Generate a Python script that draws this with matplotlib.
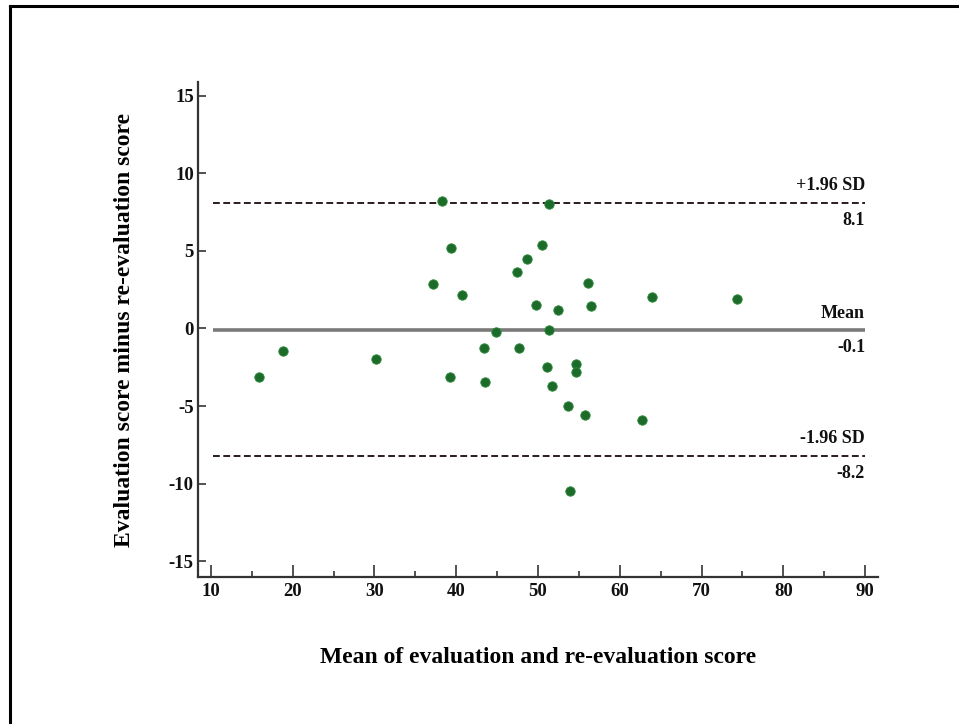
import matplotlib
matplotlib.use("Agg")
import matplotlib.pyplot as plt
from matplotlib.lines import Line2D

# Data
mean_scores = [15.9, 18.75, 30.2, 37.1, 38.2, 39.3, 39.2, 40.7, 43.4, 43.5, 44.9,
               47.4, 47.7, 48.6, 49.7, 50.5, 51.1, 51.4, 51.4, 51.7, 52.4, 53.7,
               53.9, 54.6, 54.6, 55.8, 56.1, 56.5, 62.7, 63.9, 74.3]
differences = [-3.16, -1.45, -2.0, 2.89, 8.23, 5.22, -3.13, 2.18, -1.24, -3.48, -0.24,
               3.66, -1.24, 4.48, 1.53, 5.40, -2.48, 8.05, -0.09, -3.69, 1.21, -4.99,
               -10.47, -2.30, -2.80, -5.60, 2.95, 1.42, -5.93, 2.0, 1.89]
mean_diff = -0.1
upper_loa = 8.1
lower_loa = -8.2
x_ticks = [10, 20, 30, 40, 50, 60, 70, 80, 90]
y_ticks = [-15, -10, -5, 0, 5, 10, 15]
line_start, line_end = 10.3, 90

plt.rcParams['font.family'] = ['Liberation Serif', 'DejaVu Serif']
plt.rcParams['font.weight'] = 'bold'
plt.rcParams['axes.unicode_minus'] = False

fig = plt.figure(figsize=(9.59, 7.24), dpi=100)
ax = fig.add_axes([198/959, 1-577/724, (878-198)/959, (577-82)/724])

ax.set_xlim(8.41, 91.59)
ax.set_ylim(-16.03, 15.9)

spine_col = '#333333'
for s in ['top', 'right']:
    ax.spines[s].set_visible(False)
for s in ['left', 'bottom']:
    ax.spines[s].set_linewidth(1.6)
    ax.spines[s].set_color(spine_col)

ax.hlines(mean_diff, line_start, line_end, colors='#7a7a7a', linewidth=2.6, zorder=2)
ax.hlines([upper_loa, lower_loa], line_start, line_end, colors='#2a1c1c',
          linewidth=1.4, linestyles=(0, (3.5, 1.8)), zorder=2)

ax.scatter(mean_scores, differences, s=46, color='#1d6b2b', edgecolors='#2f8a3a',
           linewidths=0.6, zorder=3)

ax.set_xticks(x_ticks)
ax.set_xticks([15, 25, 35, 45, 55, 65, 75, 85], minor=True)
ax.set_yticks(y_ticks)
ax.tick_params(axis='x', which='major', direction='in', length=9, width=1.2,
               color=spine_col, labelsize=13.5, pad=4, labelcolor='#111111')
ax.tick_params(axis='x', which='minor', direction='in', length=4.5, width=1.2,
               color=spine_col)
ax.tick_params(axis='y', which='major', direction='in', length=6, width=1.2,
               color=spine_col, labelsize=13.5, pad=3, labelcolor='#111111')
for lab in ax.get_xticklabels() + ax.get_yticklabels():
    lab.set_fontweight('bold')

ax.set_xlabel('Mean of evaluation and re-evaluation score', fontsize=17,
              fontweight='bold', labelpad=34, color='black')
ax.set_ylabel('Evaluation score minus re-evaluation score', fontsize=17,
              fontweight='bold', labelpad=24, color='black')

txt_kw = dict(ha='right', fontsize=13, fontweight='bold', color='#111111')
ax.text(line_end, upper_loa + 0.55, '+1.96 SD', va='bottom', **txt_kw)
ax.text(line_end, upper_loa - 0.6, f'{upper_loa:.1f}', va='top', **txt_kw)
ax.text(line_end, mean_diff + 0.55, 'Mean', va='bottom', **txt_kw)
ax.text(line_end, mean_diff - 0.6, f'{mean_diff:.1f}', va='top', **txt_kw)
ax.text(line_end, lower_loa + 0.55, '-1.96 SD', va='bottom', **txt_kw)
ax.text(line_end, lower_loa - 0.6, f'{lower_loa:.1f}', va='top', **txt_kw)

# Outer frame (left and top edges visible in the reference)
fig.add_artist(Line2D([9.5/959, 9.5/959], [0, 1-5.5/724], transform=fig.transFigure,
                      color='black', linewidth=2.2))
fig.add_artist(Line2D([9.5/959, 1], [1-5.5/724, 1-5.5/724], transform=fig.transFigure,
                      color='black', linewidth=2.2))

fig.savefig('out.png', dpi=100)
